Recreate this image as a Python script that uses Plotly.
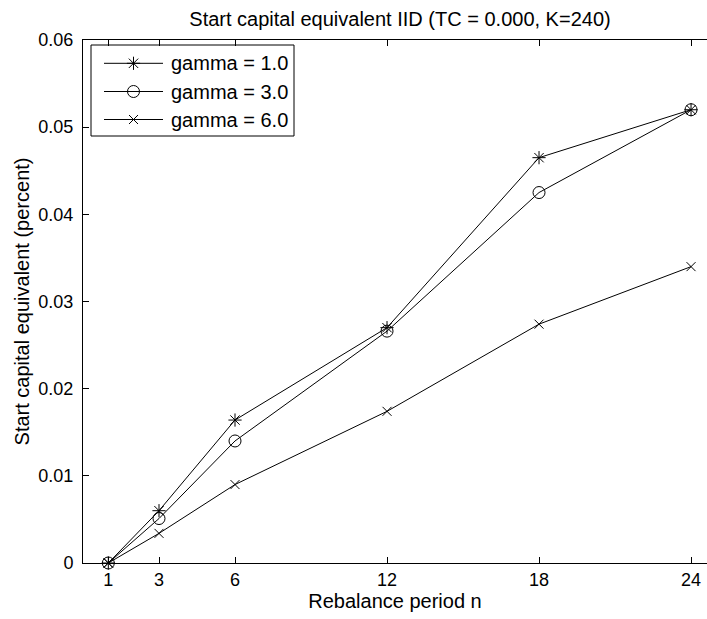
import plotly.graph_objects as go

periods = [1, 3, 6, 12, 18, 24]
gamma1 = [0.0, 0.0060, 0.0164, 0.0270, 0.0465, 0.0520]
gamma3 = [0.0, 0.0051, 0.0140, 0.0266, 0.0425, 0.0520]
gamma6 = [0.0, 0.0034, 0.0090, 0.0174, 0.0274, 0.0340]
names = ["gamma = 1.0", "gamma = 3.0", "gamma = 6.0"]
symbols = ["asterisk-open", "circle-open", "x-thin-open"]
sizes = [11, 12, 9]
yticks = [0, 0.01, 0.02, 0.03, 0.04, 0.05, 0.06]
yticktext = ["0", "0.01", "0.02", "0.03", "0.04", "0.05", "0.06"]

FONT = "Liberation Sans, Arial, Helvetica, sans-serif"
W, H = 707, 619
L, T, B = 83, 40, 56
PLOT_BOTTOM = H - B

fig = go.Figure()
for ys, nm, sym, sz in zip([gamma1, gamma3, gamma6], names, symbols, sizes):
    fig.add_trace(go.Scatter(
        x=periods, y=ys, name=nm, mode="lines+markers",
        line=dict(color="black", width=1),
        marker=dict(symbol=sym, size=sz, color="black",
                    line=dict(color="black", width=1)),
        cliponaxis=False, showlegend=False,
    ))

# MATLAB-style legend drawn on a pixel-scaled overlay axis
leg_box = (91, 294, 45, 136)
leg_rows = [63.3, 91.5, 119.5]
leg_line = (104, 163)
leg_mark_x = 133.5
leg_text_x = 169
for nm, sym, sz, yy in zip(names, symbols, sizes, leg_rows):
    fig.add_trace(go.Scatter(
        x=list(leg_line), y=[yy, yy], mode="lines", xaxis="x2", yaxis="y2",
        line=dict(color="black", width=1), showlegend=False, hoverinfo="skip"))
    fig.add_trace(go.Scatter(
        x=[leg_mark_x], y=[yy], mode="markers", xaxis="x2", yaxis="y2",
        marker=dict(symbol=sym, size=sz, color="black",
                    line=dict(color="black", width=1)),
        showlegend=False, hoverinfo="skip"))
    fig.add_annotation(x=leg_text_x, y=yy, xref="x2", yref="y2", text=nm,
                       showarrow=False, xanchor="left", yanchor="middle",
                       font=dict(size=20, color="black"))
bx0, bx1, by0, by1 = leg_box
fig.add_shape(type="rect", xref="paper", yref="paper", layer="above",
              x0=(bx0 - L) / (W - L), x1=(bx1 - L) / (W - L),
              y0=(PLOT_BOTTOM - by1) / (PLOT_BOTTOM - T),
              y1=(PLOT_BOTTOM - by0) / (PLOT_BOTTOM - T),
              line=dict(color="black", width=1), fillcolor="rgba(0,0,0,0)")

fig.update_layout(
    width=W, height=H,
    margin=dict(l=L, r=0, t=T, b=B, pad=0),
    paper_bgcolor="white", plot_bgcolor="white",
    font=dict(family=FONT, size=20, color="black"),
    title=dict(text="Start capital equivalent IID (TC = 0.000, K=240)",
               x=400 / W, xanchor="center", y=1 - 19 / H, yanchor="middle",
               font=dict(size=20)),
    showlegend=False,
    xaxis=dict(
        range=[0, 24.63], tickvals=periods, ticktext=[str(p) for p in periods],
        ticks="inside", ticklen=6, tickcolor="black", showline=True,
        linecolor="black", linewidth=1, mirror="ticks", showgrid=False,
        zeroline=False, tickfont=dict(size=18),
        title=dict(text="Rebalance period n", font=dict(size=20), standoff=3),
    ),
    yaxis=dict(
        range=[0, 0.06], tickvals=yticks, ticktext=yticktext,
        ticks="inside", ticklen=6, tickcolor="black", showline=True,
        linecolor="black", linewidth=1, mirror=False, showgrid=False,
        zeroline=False, tickfont=dict(size=18), ticklabelstandoff=5,
        title=dict(text="Start capital equivalent (percent)", font=dict(size=20), standoff=3),
    ),
    xaxis2=dict(overlaying="x", range=[L, W], visible=False, fixedrange=True),
    yaxis2=dict(overlaying="y", range=[PLOT_BOTTOM, T], visible=False, fixedrange=True),
)
fig.write_html("out.html")
